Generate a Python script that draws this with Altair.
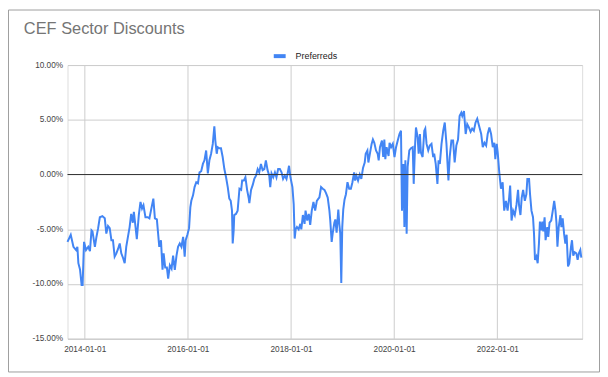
import altair as alt
import pandas as pd

# ---- data (percent discount) ----
dates = [
    "2013-09-01", "2013-09-24", "2013-10-13", "2013-11-01", "2013-11-10", "2013-11-17",
    "2013-11-29", "2013-12-10", "2013-12-17", "2013-12-27",
    "2014-01-10", "2014-01-26", "2014-02-07", "2014-02-18", "2014-02-25", "2014-03-14",
    "2014-03-25", "2014-04-06", "2014-04-18", "2014-05-06", "2014-05-23", "2014-06-03",
    "2014-06-15", "2014-06-27", "2014-07-09", "2014-07-20", "2014-08-01", "2014-08-13",
    "2014-08-25", "2014-09-06", "2014-09-17", "2014-09-29", "2014-10-11", "2014-10-22",
    "2014-11-03", "2014-11-15", "2014-11-26", "2014-12-08", "2014-12-15", "2014-12-27",
    "2015-01-05", "2015-01-19", "2015-01-31", "2015-02-11", "2015-02-21", "2015-03-07",
    "2015-03-23", "2015-04-04", "2015-04-15", "2015-05-02", "2015-05-13", "2015-05-27",
    "2015-06-13", "2015-06-25", "2015-07-06", "2015-07-14", "2015-07-25", "2015-08-06",
    "2015-08-15", "2015-08-27", "2015-09-08", "2015-09-19", "2015-10-01", "2015-10-13",
    "2015-10-24", "2015-11-05", "2015-11-17", "2015-11-29", "2015-12-10", "2015-12-17",
    "2015-12-29",
    "2016-01-10", "2016-01-19", "2016-01-26", "2016-02-07", "2016-02-18", "2016-03-01",
    "2016-03-13", "2016-03-24", "2016-04-05", "2016-04-17", "2016-04-28", "2016-05-10",
    "2016-05-22", "2016-06-02", "2016-06-14", "2016-06-26", "2016-07-07", "2016-07-14",
    "2016-07-24", "2016-07-31", "2016-08-11", "2016-08-23", "2016-09-04", "2016-09-16",
    "2016-09-28", "2016-10-10", "2016-10-21", "2016-10-31", "2016-11-09", "2016-11-14",
    "2016-11-21", "2016-11-25", "2016-12-07", "2016-12-19",
    "2017-01-01", "2017-01-13", "2017-01-20", "2017-02-01", "2017-02-12", "2017-02-24",
    "2017-03-08", "2017-03-12", "2017-03-24", "2017-04-05", "2017-04-16", "2017-04-28",
    "2017-05-10", "2017-05-21", "2017-06-02", "2017-06-14", "2017-06-26", "2017-07-07",
    "2017-07-19", "2017-07-31", "2017-08-07", "2017-08-16", "2017-08-28", "2017-09-09",
    "2017-09-20", "2017-10-02", "2017-10-14", "2017-10-26", "2017-11-06", "2017-11-18",
    "2017-11-30", "2017-12-11", "2017-12-18", "2017-12-28",
    "2018-01-11", "2018-01-20", "2018-01-27", "2018-02-03", "2018-02-12", "2018-02-24",
    "2018-03-08", "2018-03-15", "2018-03-26", "2018-04-07", "2018-04-14", "2018-04-26",
    "2018-05-07", "2018-05-17", "2018-05-28", "2018-06-09", "2018-06-21", "2018-07-03",
    "2018-07-14", "2018-07-21", "2018-08-02", "2018-08-14", "2018-08-26", "2018-09-06",
    "2018-09-18", "2018-09-30", "2018-10-06", "2018-10-16", "2018-10-23", "2018-11-04",
    "2018-11-11", "2018-11-20", "2018-12-02", "2018-12-09", "2018-12-16", "2018-12-23",
    "2018-12-30",
    "2019-01-06", "2019-01-15", "2019-01-25", "2019-02-05", "2019-02-17", "2019-03-01",
    "2019-03-12", "2019-03-24", "2019-03-31", "2019-04-09", "2019-04-21", "2019-05-03",
    "2019-05-14", "2019-05-26", "2019-06-07", "2019-06-14", "2019-06-26", "2019-07-03",
    "2019-07-15", "2019-07-26", "2019-08-04", "2019-08-14", "2019-08-26", "2019-09-07",
    "2019-09-14", "2019-09-23", "2019-10-07", "2019-10-16", "2019-10-24", "2019-10-31",
    "2019-11-09", "2019-11-23", "2019-11-30", "2019-12-11", "2019-12-23",
    "2020-01-04", "2020-01-15", "2020-01-27", "2020-02-08", "2020-02-19", "2020-02-26",
    "2020-03-07", "2020-03-14", "2020-03-21", "2020-03-30", "2020-04-06", "2020-04-18",
    "2020-04-30", "2020-05-12", "2020-05-19", "2020-05-28", "2020-06-04", "2020-06-16",
    "2020-06-23", "2020-07-02", "2020-07-09", "2020-07-21", "2020-08-02", "2020-08-09",
    "2020-08-18", "2020-08-30", "2020-09-10", "2020-09-22", "2020-10-04", "2020-10-11",
    "2020-10-22", "2020-11-03", "2020-11-11", "2020-11-20", "2020-12-02", "2020-12-14",
    "2020-12-25",
    "2021-01-06", "2021-01-13", "2021-01-20", "2021-01-29", "2021-02-10", "2021-02-22",
    "2021-03-05", "2021-03-17", "2021-03-29", "2021-04-09", "2021-04-21", "2021-04-28",
    "2021-05-10", "2021-05-22", "2021-06-02", "2021-06-14", "2021-06-26", "2021-07-07",
    "2021-07-19", "2021-07-31", "2021-08-12", "2021-08-28", "2021-09-09", "2021-09-20",
    "2021-10-02", "2021-10-14", "2021-10-25", "2021-11-06", "2021-11-18", "2021-11-30",
    "2021-12-11", "2021-12-18", "2021-12-28",
    "2022-01-04", "2022-01-15", "2022-01-27", "2022-02-08", "2022-02-19", "2022-03-03",
    "2022-03-15", "2022-03-26", "2022-04-02", "2022-04-12", "2022-04-23", "2022-05-05",
    "2022-05-17", "2022-05-28", "2022-06-04", "2022-06-14", "2022-06-23", "2022-07-03",
    "2022-07-15", "2022-07-26", "2022-08-02", "2022-08-14", "2022-08-21", "2022-08-31",
    "2022-09-11", "2022-09-18", "2022-09-25", "2022-10-05", "2022-10-14", "2022-10-23",
    "2022-10-30", "2022-11-09", "2022-11-16", "2022-11-23", "2022-12-02", "2022-12-09",
    "2022-12-21", "2022-12-28",
    "2023-01-06", "2023-01-18", "2023-01-29", "2023-02-08", "2023-02-17", "2023-02-24",
    "2023-03-03", "2023-03-12", "2023-03-24", "2023-03-31", "2023-04-09", "2023-04-19",
    "2023-04-28", "2023-05-07", "2023-05-17", "2023-05-26", "2023-06-07", "2023-06-14",
    "2023-06-23", "2023-07-03", "2023-07-15", "2023-07-24", "2023-08-02", "2023-08-12",
    "2023-08-19",
]

preferreds = [
    -6.15, -5.5, -6.6, -6.9, -6.6, -8.1, -8.7, -10.1, -10.1, -6.15,
    -6.9, -6.6, -7.0, -5.1, -5.2, -6.6, -5.7, -4.9, -3.9, -3.8, -4.0, -5.4,
    -4.7, -4.9, -6.0, -6.0, -7.5, -7.2, -6.8, -6.3, -7.2, -7.6, -8.1, -6.6,
    -5.7, -4.8, -3.6, -4.4, -3.4, -4.8,
    -5.9, -3.7, -2.5, -3.1, -2.8, -3.9, -3.9, -4.0, -3.3, -2.2, -4.0, -4.1,
    -6.6, -6.0, -8.7, -7.2, -8.5, -8.5, -9.5, -8.3, -8.6, -7.4, -8.7, -7.4,
    -6.6, -6.3, -6.6, -5.7, -7.5, -6.0, -5.5,
    -4.9, -3.0, -2.4, -1.9, -1.15, -0.7, -0.8, 0.2, 0.3, 0.97, 1.3, 2.2,
    0.1, 1.3, 1.9, 2.8, 4.4, 3.1, 1.9, 2.5, 2.4, 2.4, 1.6, 0.5,
    -0.25, -1.15, -2.2, -2.4, -3.3, -6.3, -5.1, -3.7, -3.6, -3.3,
    -1.3, -1.4, -0.55, -0.55, -0.25, -1.4, -2.2, -2.6, -1.4, -0.95, -0.4, -0.1,
    0.5, 0.2, 0.97, 0.4, 0.5, 1.3, 0.4, -0.1, -1.15, 0.1, -0.25, 0.2,
    -0.25, 0.5, 0.5, 0.2, -0.4, -0.1, -0.4, 0.3, 0.8, -0.25,
    -1.15, -2.7, -5.85, -5.0, -4.8, -5.0, -4.5, -5.0, -3.7, -4.5, -3.3, -4.2,
    -3.6, -4.6, -3.3, -2.5, -3.3, -2.4, -2.2, -2.1, -1.15, -1.3, -1.4, -1.7,
    -2.1, -3.3, -4.2, -6.15, -5.4, -4.4, -4.1, -5.3, -3.2, -4.5, -5.4, -9.9,
    -4.8,
    -3.2, -2.3, -1.8, -0.7, -1.3, -1.3, -0.7, 0.2, -0.55, -0.1, -0.55, 0.0,
    -0.4, 0.6, 1.1, 1.9, 2.2, 1.1, 2.0, 2.8, 3.2, 2.9, 2.2, 1.9,
    1.3, 2.5, 3.1, 1.6, 3.2, 1.4, 2.5, 1.7, 2.9, 2.5, 2.8,
    1.6, 2.5, 3.1, 3.7, 4.0, -3.3, 0.97, -4.8, 1.3, -5.4, 0.7, 2.2,
    2.4, 2.5, -0.85, 2.5, 4.3, 3.4, 1.9, 3.7, 2.0, 1.6, 4.0, 4.2,
    2.8, 2.2, 2.65, 2.8, 1.6, 1.9, 0.97, -0.85, 1.3, 0.97, 2.8, 4.0,
    4.75,
    2.8, 1.1, -0.55, 1.6, 3.1, 3.1, 1.1, 2.65, 3.2, 5.35, 5.65, 5.35,
    5.8, 3.7, 4.6, 4.3, 3.9, 4.2, 4.0, 4.75, 5.1, 4.3, 3.7, 2.5,
    2.9, 2.65, 3.7, 4.3, 3.7, 2.5, 2.9, 1.4, 2.8,
    2.0, 0.2, -1.3, -0.7, -3.3, -2.4, -3.3, -2.1, -1.0, -4.2, -3.3, -3.7,
    -2.75, -1.4, -2.8, -3.7, -2.1, -1.4, -2.4, -1.8, -0.4, -0.4, -1.8, -3.3,
    -3.9, -5.4, -7.8, -7.5, -8.1, -6.3, -4.3, -5.1, -4.3, -5.2, -3.9, -6.0,
    -4.8, -5.7,
    -4.4, -4.2, -3.3, -2.4, -3.3, -4.4, -6.6, -4.8, -3.7, -4.8, -4.0, -5.4,
    -6.3, -5.5, -8.4, -8.1, -6.6, -6.0, -7.4, -7.1, -7.2, -7.8, -7.2, -6.9,
    -7.6,
]

chart_title = "CEF Sector Discounts"
series_name = "Preferreds"
y_ticks = [-15, -10, -5, 0, 5, 10]
x_tick_years = [2014, 2016, 2018, 2020, 2022]

df = pd.DataFrame({"date": dates, "value": preferreds, "series": series_name})

FONT = "Liberation Sans, Arial, sans-serif"
BLUE = "#4285F4"

x_scale = alt.Scale(
    type="utc",
    domain=[alt.DateTime(year=2013, month=9, date=1, utc=True),
            alt.DateTime(year=2023, month=8, date=25, utc=True)],
)
y_scale = alt.Scale(domain=[-15, 10], nice=False, zero=False)

x_axis = alt.Axis(
    values=[alt.DateTime(year=y, month=1, date=1, utc=True) for y in x_tick_years],
    labelExpr="utcFormat(datum.value, '%Y-%m-%d')", title=None,
    grid=True, gridColor="#cccccc", domain=True, domainColor="#cccccc",
    ticks=False, labelPadding=6, labelFlush=False, labelOverlap=False,
    labelFont=FONT, labelFontSize=8.3, labelColor="#444444",
)
y_axis = alt.Axis(
    values=y_ticks, title=None,
    labelExpr="replace(format(datum.value, '.2f'), '\u2212', '-') + '%'",
    grid=True, gridColor="#cccccc", domain=False, ticks=False, labelPadding=5,
    labelFont=FONT, labelFontSize=8.3, labelColor="#444444",
)

line = alt.Chart(df).mark_line(strokeWidth=2).encode(
    x=alt.X("date:T", scale=x_scale, axis=x_axis),
    y=alt.Y("value:Q", scale=y_scale, axis=y_axis),
    color=alt.Color(
        "series:N",
        scale=alt.Scale(domain=[series_name], range=[BLUE]),
        legend=alt.Legend(
            title=None, orient="none", legendX=206, legendY=-17,
            symbolType="stroke", symbolStrokeWidth=4, symbolSize=144,
            labelFont=FONT, labelFontSize=9, labelColor="#222222", labelOffset=8,
        ),
    ),
)

zero = alt.Chart(pd.DataFrame({"v": [0]})).mark_rule(color="#333333", strokeWidth=1).encode(
    y=alt.Y("v:Q", scale=y_scale, axis=y_axis)
)

border = alt.Chart(pd.DataFrame({"k": [0]})).mark_rect(
    fillOpacity=0, stroke="#9e9e9e", strokeWidth=1
).encode(
    x=alt.value(-59.5), x2=alt.value(536.5), y=alt.value(-55.5), y2=alt.value(309.5)
)

title_text = alt.Chart(pd.DataFrame({"t": [chart_title]})).mark_text(
    align="left", baseline="alphabetic", font=FONT, fontSize=16.5, color="#757575"
).encode(
    text="t:N", x=alt.value(-44), y=alt.value(-31)
)

chart = alt.layer(border, line, zero, title_text).properties(
    width=519,
    height=276,
    autosize=alt.AutoSizeParams(type="none"),
    padding={"left": 60, "top": 56, "right": 18, "bottom": 34},
).configure_view(stroke=None).configure(background="white")

chart.save("out.html", embed_options={"renderer": "svg", "actions": False})
